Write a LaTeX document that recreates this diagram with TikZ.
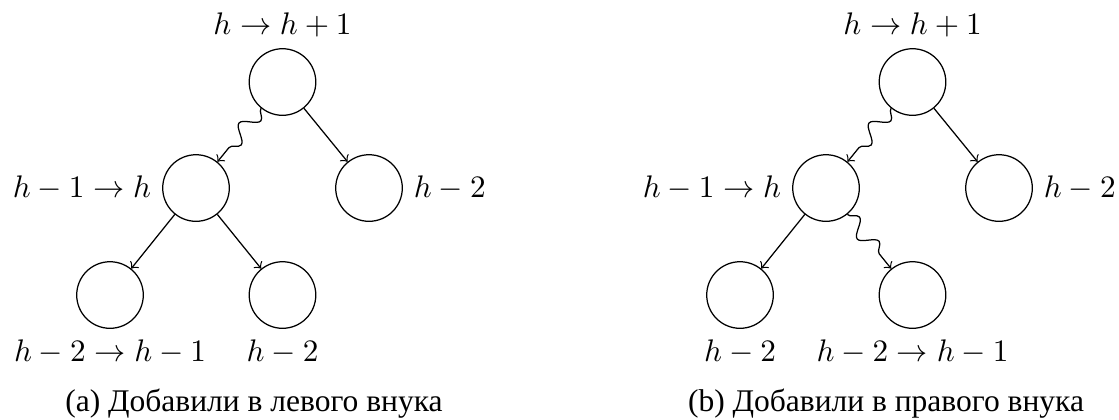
\documentclass[tikz,border=0pt]{standalone}
\usepackage{fontspec}
\newfontfamily\capfont{Liberation Serif}[Ligatures=TeX]
\usetikzlibrary{decorations.pathmorphing}
\begin{document}
\begin{tikzpicture}[x=0.3205pt,y=-0.3205pt,
  vtx/.style={circle,draw,minimum size=0.75cm,inner sep=0pt},
  arr/.style={->},
  wavy/.style={->,decorate,decoration={snake,post length=1mm}},
  subcap/.style={anchor=base,font={\capfont\fontsize{10.1}{12}\selectfont}}]
\useasboundingbox (0,0) rectangle (1119,419);
% left tree
\node[vtx,label=above:{$h\to h+1$}] (a1) at (282.5,82) {};
\node[vtx,label=left:{$h-1\to h$}] (a2) at (196,188) {};
\node[vtx,label=right:{$h-2$}] (a3) at (369,188) {};
\node[vtx,label=below:{$h-2\to h-1$}] (a4) at (110,295) {};
\node[vtx,label=below:{$h-2$}] (a5) at (282.5,295) {};
\draw[wavy] (a1) -- (a2);
\draw[arr] (a1) -- (a3);
\draw[arr] (a2) -- (a4);
\draw[arr] (a2) -- (a5);
\node[subcap] (ca) at (254,411) {(a) Добавили в левого внука};
% right tree
\node[vtx,label=above:{$h\to h+1$}] (b1) at (912.5,82) {};
\node[vtx,label=left:{$h-1\to h$}] (b2) at (826,188) {};
\node[vtx,label=right:{$h-2$}] (b3) at (999,188) {};
\node[vtx,label=below:{$h-2$}] (b4) at (740,295) {};
\node[vtx,label=below:{$h-2\to h-1$}] (b5) at (912.5,295) {};
\draw[wavy] (b1) -- (b2);
\draw[arr] (b1) -- (b3);
\draw[arr] (b2) -- (b4);
\draw[wavy] (b2) -- (b5);
\node[subcap] (cb) at (886,411) {(b) Добавили в правого внука};
\end{tikzpicture}
\end{document}
